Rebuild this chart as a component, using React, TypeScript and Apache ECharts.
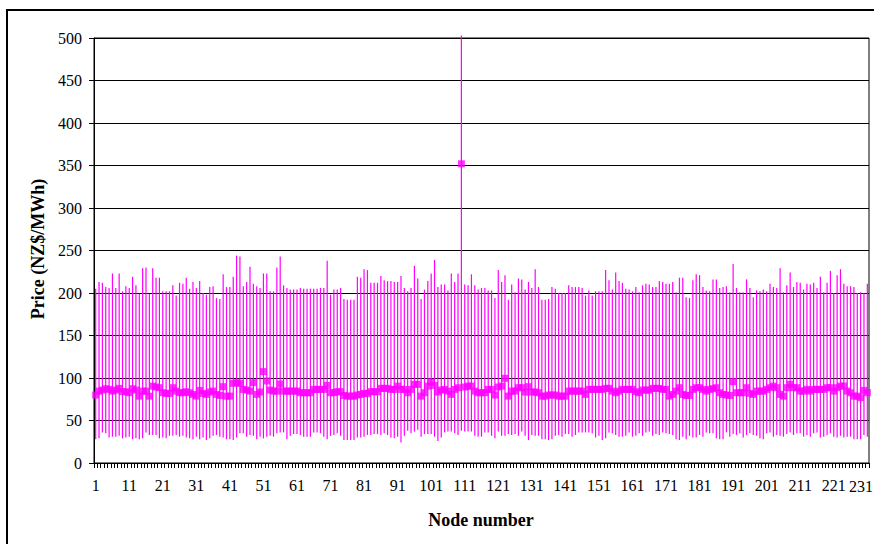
import React, { useEffect, useRef } from "react";
import * as echarts from "echarts";

// Node labels 1..231
const nodes: string[] = Array.from({ length: 231 }, (_, i) => String(i + 1));

// Lowest observed price per node (NZ$/MWh)
const lows: number[] = [
  28, 29, 36, 35, 30, 31, 31, 32, 29, 30, 31, 28, 29, 28, 29, 36, 33, 33, 33, 29,
  30, 29, 32, 32, 33, 31, 32, 30, 29, 28, 31, 28, 30, 27, 29, 32, 33, 31, 30, 28,
  28, 27, 30, 35, 35, 31, 33, 32, 28, 31, 29, 31, 32, 31, 35, 36,
  36, 28, 32, 34, 34, 33, 31, 31, 31, 36, 36, 35, 31, 28, 32, 33, 35, 32, 27, 27,
  27, 27, 30, 30, 31, 33, 33, 34, 34, 33, 35, 33, 30, 29, 31, 24, 32, 38, 35, 37,
  39, 31, 34, 34, 34, 31, 26, 30, 36, 37, 37, 35, 33, 38, 37, 37, 37,
  32, 31, 31, 36, 36, 32, 29, 37, 32, 32, 34, 33, 34, 32, 37, 32, 27, 33, 32, 32,
  28, 28, 27, 28, 32, 33, 31, 34, 34, 31, 33, 36, 36, 36, 36, 35, 30, 32, 27, 29,
  36, 35, 33, 31, 31, 32, 36, 31, 32, 35, 32, 36, 37, 32, 34, 33,
  36, 35, 34, 33, 28, 27, 31, 28, 32, 30, 30, 33, 31, 36, 35, 35, 29, 28, 28, 36,
  31, 34, 33, 35, 30, 33, 35, 33, 32, 29, 28, 35, 36, 31, 33, 32, 31, 34, 36, 33,
  35, 35, 31, 33, 31, 35, 36, 30, 31, 33, 35, 31, 30, 32, 30, 31, 31, 28, 28, 28,
  33, 31,
];

// Highest observed price per node (NZ$/MWh)
const highs: number[] = [
  205, 213, 212, 207, 206, 223, 206, 223, 202, 208, 206, 219, 209, 199, 229, 230, 199, 229, 218, 218,
  202, 202, 202, 209, 197, 212, 211, 218, 205, 213, 206, 214, 200, 198, 207, 208, 194, 193, 222, 207,
  207, 219, 244, 243, 208, 213, 231, 211, 208, 206, 223, 223, 202, 202, 230, 243,
  209, 206, 204, 204, 204, 206, 205, 205, 205, 205, 205, 206, 206, 238, 198, 204, 204, 206, 193, 192,
  192, 192, 219, 218, 228, 227, 212, 212, 212, 220, 215, 214, 214, 213, 213, 220, 206, 202, 206, 232,
  217, 193, 204, 214, 223, 239, 207, 210, 210, 203, 223, 213, 223, 503, 210, 209, 222,
  209, 204, 206, 206, 203, 203, 194, 227, 213, 221, 192, 210, 201, 217, 216, 204, 213, 206, 228, 207,
  192, 192, 193, 207, 205, 200, 200, 200, 209, 207, 207, 207, 206, 197, 203, 197, 202, 202, 202, 227,
  215, 204, 224, 214, 212, 205, 204, 202, 207, 201, 209, 211, 210, 207, 207, 214,
  213, 211, 211, 213, 201, 218, 218, 195, 194, 215, 222, 221, 207, 203, 202, 216, 216, 206, 207, 208,
  201, 234, 206, 201, 201, 216, 206, 195, 203, 202, 204, 202, 211, 207, 206, 229, 201, 209, 224, 207,
  213, 212, 204, 211, 210, 212, 206, 219, 201, 212, 226, 200, 221, 228, 211, 208, 208, 207, 200, 201,
  200, 211,
];

// Average price per node (NZ$/MWh)
const means: number[] = [
  80, 84.6, 85.8, 87.4, 86.6, 84.6, 85.8, 87.8, 83.9, 83.9, 82.7, 87.4, 85.8, 78.7, 84.6, 84.6, 78.7, 90.5, 89.4, 88.6,
  82.7, 81.9, 81.9, 88.6, 84.6, 82.7, 82.7, 83.9, 82.7, 80.7, 78.7, 85.4, 81.9, 80.7, 83.5, 84.6, 80.7, 79.5, 89.8, 78.7,
  78.7, 93.7, 94.5, 93.7, 86.6, 85.8, 84.6, 94.5, 80.7, 83.5, 107.5, 96.5, 85.8, 84.6, 84.6, 93,
  84.6, 84.6, 84.6, 84.6, 84.6, 82.7, 82.7, 82.7, 82.7, 86.6, 86.6, 86.6, 86.6, 91.3, 82.7, 82.7, 83.9, 83.9, 79.5, 78.7,
  78.7, 78.7, 80, 80.7, 81.9, 81.9, 83.9, 83.9, 83.9, 87.8, 87.8, 87.8, 86.6, 86.6, 90.5, 86.6, 86.6, 82.7, 86.6, 92.5,
  92.5, 78.7, 82.7, 90.5, 95.3, 91.3, 83.5, 85.8, 86.6, 84.6, 80.7, 86.6, 88.6, 352, 89.4, 90.5, 90.5,
  84.6, 82.7, 82.7, 82.7, 86.6, 86.6, 80, 89.4, 90.5, 99.6, 78.7, 84.6, 84.6, 88.6, 88.6, 83.5, 89.8, 83.5, 83.5, 82.7,
  78.7, 78.7, 80, 80, 80, 78.7, 78.7, 78.7, 84.6, 84.6, 84.6, 84.6, 84.6, 80.7, 86.6, 86.6, 86.6, 86.6, 86.6, 87.8,
  87.8, 84.6, 82.7, 84.6, 86.6, 86.6, 86.6, 86.6, 83.9, 82.7, 85.8, 85.8, 85.8, 87.8, 87.8, 87.8,
  86.6, 86.6, 78.7, 80.7, 84.6, 88.6, 80.7, 79.5, 79.5, 86.6, 88.6, 88.6, 86.6, 84.6, 86.6, 87.4, 88.6, 82.7, 80.7, 80,
  79.5, 95.7, 82.7, 82.7, 82.7, 88.6, 81.9, 80.7, 84.6, 84.6, 84.6, 86.6, 88.6, 90.5, 88.6, 80.7, 78.7, 88.6, 92.5, 88.6,
  88.6, 84.6, 84.6, 86.6, 84.6, 86.6, 86.6, 86.6, 86.6, 88.6, 88.6, 84.6, 88.6, 90.5, 90.5, 84.6, 82.7, 78.7, 78.7, 76.8,
  85.4, 82.7,
];

const yTicks = { min: 0, max: 500, interval: 50 };

const SERIF = "Liberation Serif, Times New Roman, serif";
const MAGENTA = "#ff00ff";
const LAST_NODE = nodes[nodes.length - 1];

export default function App() {
  const ref = useRef<HTMLDivElement>(null);

  useEffect(() => {
    if (!ref.current) return;
    const chart = echarts.init(ref.current, null, { renderer: "svg" });

    const rangeData = nodes.map((_, i) => [i, lows[i], highs[i]]);

    chart.setOption({
      animation: false,
      backgroundColor: "#ffffff",
      grid: {
        left: 94,
        top: 38,
        width: 775,
        height: 425,
        show: true,
        borderColor: "#000",
        borderWidth: 1,
        containLabel: false,
        outerBoundsMode: "none",
      },
      xAxis: {
        type: "category",
        data: nodes,
        boundaryGap: true,
        axisLine: { show: true, lineStyle: { color: "#000", width: 1 } },
        axisTick: { show: true, interval: 0, length: 5, lineStyle: { color: "#000" } },
        axisLabel: {
          interval: 9,
          margin: 14,
          fontFamily: SERIF,
          fontSize: 16,
          color: "#000",
          hideOverlap: false,
          // the last node label sits against the page edge and is drawn separately
          formatter: (v: string) => (v === LAST_NODE ? "" : v),
        },
        splitLine: { show: false },
      },
      yAxis: {
        type: "value",
        min: yTicks.min,
        max: yTicks.max,
        interval: yTicks.interval,
        axisLine: { show: true, lineStyle: { color: "#000", width: 1 } },
        axisTick: { show: true, length: 5, lineStyle: { color: "#000" } },
        axisLabel: {
          margin: 12,
          fontFamily: SERIF,
          fontSize: 16,
          color: "#000",
        },
        splitLine: { show: true, lineStyle: { color: "#000", width: 1 } },
      },
      series: [
        {
          type: "custom",
          name: "Range",
          data: rangeData,
          encode: { x: 0, y: [1, 2] },
          clip: false,
          z: 2,
          renderItem: (params: any, api: any) => {
            const idx = api.value(0);
            const lo = api.coord([idx, api.value(1)]);
            const hi = api.coord([idx, api.value(2)]);
            return {
              type: "line",
              shape: { x1: lo[0], y1: lo[1], x2: hi[0], y2: hi[1] },
              style: { stroke: MAGENTA, lineWidth: 1.2 },
            };
          },
        },
        {
          type: "scatter",
          name: "Average",
          data: means,
          symbol: "rect",
          symbolSize: 7,
          itemStyle: { color: MAGENTA },
          z: 3,
        },
      ],
      graphic: [
        {
          type: "rect",
          shape: { x: 7, y: 10, width: 900, height: 600 },
          style: { fill: "none", stroke: "#000", lineWidth: 2 },
          silent: true,
        },
        {
          type: "text",
          x: 873,
          y: 486,
          style: {
            text: LAST_NODE,
            fontFamily: SERIF,
            fontSize: 16,
            fill: "#000",
            align: "right",
            verticalAlign: "middle",
          },
        },
        {
          type: "text",
          x: 38,
          y: 249,
          rotation: Math.PI / 2,
          style: {
            text: "Price (NZ$/MWh)",
            fontFamily: SERIF,
            fontWeight: "bold",
            fontSize: 18,
            fill: "#000",
            align: "center",
            verticalAlign: "middle",
          },
        },
        {
          type: "text",
          x: 481,
          y: 520,
          style: {
            text: "Node number",
            fontFamily: SERIF,
            fontWeight: "bold",
            fontSize: 18,
            fill: "#000",
            align: "center",
            verticalAlign: "middle",
          },
        },
      ],
    });

    return () => chart.dispose();
  }, []);

  return (
    <div
      ref={ref}
      style={{ position: "fixed", left: 0, top: 0, width: 874, height: 544 }}
    />
  );
}
